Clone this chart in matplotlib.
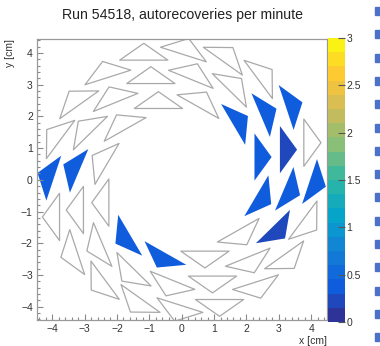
import numpy as np
import matplotlib
matplotlib.use('Agg')
import matplotlib.pyplot as plt
from matplotlib.collections import PolyCollection
from matplotlib.colors import LinearSegmentedColormap, ListedColormap, BoundaryNorm
from matplotlib.patches import Rectangle
from matplotlib.ticker import MultipleLocator

plt.rcParams['font.family'] = ['Liberation Sans', 'DejaVu Sans']

title = 'Run 54518, autorecoveries per minute'

# three rings of triangular cells: inner, middle, outer
ringCount = [12, 16, 20]
ringRadius = [2.53, 3.35, 4.12]
ringTwist = 16.5          # deg, centroid offset from apex direction
triBase = 1.49
triHeight = 0.53

# autorecoveries per minute, cell k of each ring
innerVal = [0.33, 0.33, 0, 0, 0, 0, 0, 0.33, 0.33, 0, 0, 0.33]
middleVal = [0.2, 0.33, 0, 0, 0, 0, 0, 0.33, 0, 0, 0, 0, 0, 0, 0.2, 0.33]
outerVal = [0, 0.33, 0, 0, 0, 0, 0, 0, 0, 0.33,
            0, 0, 0, 0, 0, 0, 0, 0, 0, 0.33]
ringVal = [innerVal, middleVal, outerVal]

zMin, zMax, nCont = 0, 3, 20

# ROOT kBird palette
birdStops = [0.0, 0.125, 0.25, 0.375, 0.5, 0.625, 0.75, 0.875, 1.0]
birdR = [0.2082, 0.0592, 0.0780, 0.0232, 0.1802, 0.5301, 0.8186, 0.9956, 0.9764]
birdG = [0.1664, 0.3599, 0.5041, 0.6419, 0.7178, 0.7492, 0.7328, 0.7862, 0.9832]
birdB = [0.5293, 0.8684, 0.8385, 0.7914, 0.6425, 0.4662, 0.3499, 0.1968, 0.0539]
bird = LinearSegmentedColormap.from_list(
    'bird', [(s, (r, g, b)) for s, r, g, b in zip(birdStops, birdR, birdG, birdB)])
cmap = ListedColormap(bird((np.arange(nCont) + 0.5) / nCont))
norm = BoundaryNorm(np.linspace(zMin, zMax, nCont + 1), nCont)

def triangle(n, k, r):
    psi = np.deg2rad(360.0 * k / n)
    phi = psi + np.deg2rad(ringTwist)
    local = np.array([[2 * triHeight / 3, 0],
                      [-triHeight / 3, triBase / 2],
                      [-triHeight / 3, -triBase / 2]])
    rot = np.array([[np.cos(psi), -np.sin(psi)], [np.sin(psi), np.cos(psi)]])
    return local @ rot.T + r * np.array([np.cos(phi), np.sin(phi)])

polys, vals = [], []
for n, r, v in zip(ringCount, ringRadius, ringVal):
    for k in range(n):
        polys.append(triangle(n, k, r))
        vals.append(v[k])
vals = np.array(vals)

fig = plt.figure(figsize=(3.8, 3.46), dpi=100)
ax = fig.add_axes([37 / 380, 1 - 320 / 346, 290 / 380, 281 / 346])

full = [p for p, z in zip(polys, vals) if z > 0]
fullVal = [z for z in vals if z > 0]
empty = [p for p, z in zip(polys, vals) if z <= 0]

pcE = PolyCollection(empty, facecolors='white', edgecolors='#a9a9a9', linewidths=0.9)
ax.add_collection(pcE)
pcF = PolyCollection(full, cmap=cmap, norm=norm, edgecolors='none')
pcF.set_array(np.array(fullVal))
ax.add_collection(pcF)

ax.set_xlim(-4.47, 4.49)
ax.set_ylim(-4.42, 4.44)

ax.xaxis.set_major_locator(MultipleLocator(1))
ax.xaxis.set_minor_locator(MultipleLocator(0.2))
ax.yaxis.set_major_locator(MultipleLocator(1))
ax.yaxis.set_minor_locator(MultipleLocator(0.2))
ax.tick_params(which='both', direction='in', colors='#8a8a8a', labelcolor='#333333',
               labelsize=7.5, width=0.8)
ax.tick_params(which='major', length=4.5)
ax.tick_params(which='minor', length=2.2)
ax.tick_params(axis='x', pad=3)
ax.tick_params(axis='y', pad=3)
for s in ax.spines.values():
    s.set_color('#9a9a9a')
    s.set_linewidth(0.9)

ax.set_xlabel('x [cm]', loc='right', fontsize=7.5, color='#333333', labelpad=1)
ax.set_ylabel('y [cm]', loc='top', fontsize=7.5, color='#333333', labelpad=4)
fig.suptitle(title, x=182.5 / 380, y=1 - 15.5 / 346, va='center', fontsize=10.2,
             color='#222222')

cax = fig.add_axes([328 / 380, 1 - 322 / 346, 17 / 380, 284 / 346])
sm = plt.cm.ScalarMappable(cmap=cmap, norm=norm)
cb = fig.colorbar(sm, cax=cax, ticks=np.arange(0, 3.01, 0.5))
cb.outline.set_visible(False)
cb.ax.set_yticklabels(['0', '0.5', '1', '1.5', '2', '2.5', '3'])
cb.ax.tick_params(direction='in', length=5, width=0.8, colors='#555555',
                  labelcolor='#333333', labelsize=7.5, pad=1)
cb.ax.minorticks_off()

# strip of blue marks along the right edge of the screenshot
for i in range(15):
    fig.patches.append(Rectangle((375 / 380, 1 - (15 + 23.3 * i) / 346), 5 / 380, 8 / 346,
                                 transform=fig.transFigure, color='#4a72c8', zorder=5))

fig.savefig('out.png', dpi=100)
